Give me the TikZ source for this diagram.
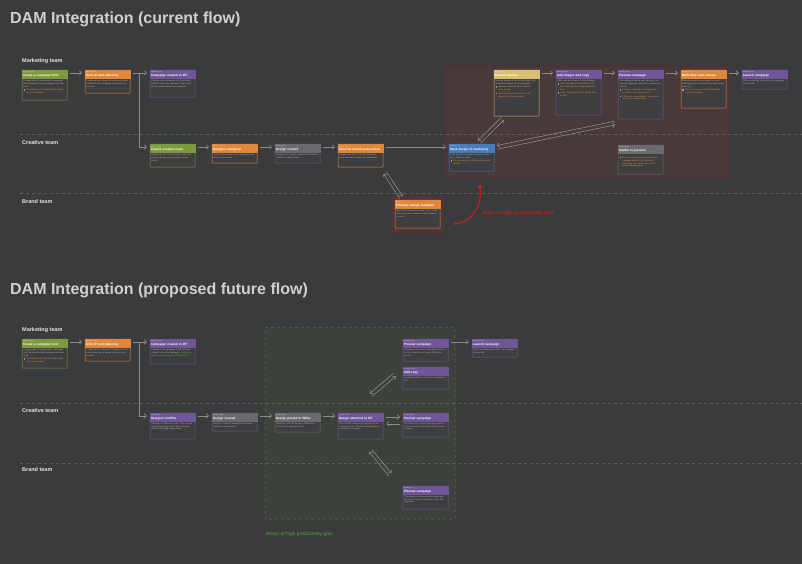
\documentclass[tikz,border=0pt]{standalone}
\usepackage{fontspec}
\setmainfont{Liberation Sans}
\usetikzlibrary{arrows.meta}

\definecolor{bgdark}{RGB}{58,59,61}
\definecolor{cardfill}{RGB}{62,62,65}
\definecolor{titlegray}{RGB}{208,208,208}
\definecolor{lanewhite}{RGB}{228,228,228}
\definecolor{bodygray}{RGB}{180,180,182}
\definecolor{dashgray}{RGB}{96,96,98}
\definecolor{arrowgray}{RGB}{140,140,142}
\definecolor{cgreen}{RGB}{125,155,60}
\definecolor{corange}{RGB}{226,134,58}
\definecolor{cpurple}{RGB}{112,86,152}
\definecolor{cgray}{RGB}{105,107,110}
\definecolor{cyellow}{RGB}{218,192,110}
\definecolor{cblue}{RGB}{70,125,190}
\definecolor{notecol}{RGB}{215,150,70}
\definecolor{lossfill}{RGB}{72,57,58}
\definecolor{lossline}{RGB}{112,36,36}
\definecolor{lossred}{RGB}{205,30,30}
\definecolor{gainfill}{RGB}{60,66,59}
\definecolor{gainline}{RGB}{75,140,60}
\definecolor{gaintext}{RGB}{80,170,60}

% one card: name, x, y, height, colour, team, title, body
\newcommand{\dcard}[8]{%
  \node[cardbox, draw=#5, minimum height=#4pt] (#1) at (#2,#3) {};
  \node[cardhead, draw=#5, fill=#5] (#1-head) at (#1.north west)
    {{\fontsize{1.5}{1.9}\selectfont\mdseries\color{white!75!gray}#6}\\#7};
  \node[cardtext] (#1-text) at (#1-head.south west) {#8};}
% orange note inside a card
\newcommand{\dnote}[1]{\par\vspace{0.7pt}\textcolor{notecol}{\rule{1.5pt}{1.5pt}\hspace{1.2pt}\parbox[t]{37pt}{\raggedright #1}}}

\begin{document}
\begin{tikzpicture}[x=1pt, y=-1pt,
  cardbox/.style={anchor=north west, minimum width=45pt, fill=cardfill, line width=0.5pt, rounded corners=0.6pt, inner sep=0pt},
  cardhead/.style={anchor=north west, text width=43.4pt, inner xsep=0.8pt, inner ysep=0.9pt, minimum height=8pt, align=left, text=white, line width=0.5pt, font=\fontsize{3.1}{3.4}\selectfont\bfseries},
  cardtext/.style={anchor=north west, text width=42pt, inner xsep=1.5pt, inner ysep=1.3pt, align=left, text=bodygray, font=\fontsize{2.1}{2.8}\selectfont},
  flow/.style={draw=arrowgray, line width=0.6pt, -{Straight Barb[length=2.2pt, width=4.4pt]}, shorten <=3pt, shorten >=3pt},
  lane/.style={anchor=west, inner sep=0pt, text=lanewhite, font=\fontsize{5.5}{6}\selectfont\bfseries},
  heading/.style={anchor=base west, inner sep=0pt, text=titlegray, font=\fontsize{16}{18}\selectfont\bfseries},
  divider/.style={draw=dashgray, dashed, line width=0.5pt},
  lossarea/.style={anchor=north west, draw=lossline, fill=lossfill, line width=0.6pt, rounded corners=1pt},
  gainarea/.style={anchor=north west, draw=gainline, fill=gainfill, dashed, line width=0.5pt, rounded corners=1pt}]

  % background
  \fill[bgdark] (0,0) rectangle (802,564);

  % headings and lanes
  \node[heading] (title1) at (10,24) {DAM Integration (current flow)};
  \node[heading] (title2) at (10,295) {DAM Integration (proposed future flow)};
  \foreach \y/\t in {61/Marketing team, 143/Creative team, 202/Brand team, 330/Marketing team, 411/Creative team, 470/Brand team}
    \node[lane] (lane-\y) at (22,\y) {\t};

  % areas
  \node[lossarea, minimum width=284pt, minimum height=112pt] (lossmain) at (445,66) {};
  \node[lossarea, minimum width=53pt, minimum height=36pt] (lossfb) at (391,196) {};
  \node[gainarea, minimum width=190pt, minimum height=192pt] (gainmain) at (265,327) {};
  \foreach \y in {134,193,403,463} \draw[divider] (20,\y) -- (802,\y);

  % current flow
  \dcard{brief}{22}{70}{30}{cgreen}{Marketing team}{Create a campaign brief}{A single sheet is created with a campaign brief, detailing the key messages and audience.\dnote{The brief lives in a shared folder, away from the campaign.}}
  \dcard{kick}{85}{70}{23}{corange}{Marketing team}{Kick off and planning}{Creative brief is shared for review and feedback before the campaign and assets are created.}
  \dcard{mt}{150}{70}{27}{cpurple}{Marketing team}{Campaign created in MT}{Creates a new campaign in MT and adds relevant info to the campaign. Then waits for the creative brief to be completed.}
  \dcard{involve}{150}{144}{23}{cgreen}{Creative team}{Involve creative team}{Assigns the brief to the creative team who plan the design work and asset requirements.}
  \dcard{assign}{212}{144}{19}{corange}{Creative team}{Designer assigned}{The brief is handed over to a designer who starts on the assets.}
  \dcard{created}{275}{144}{19}{cgray}{Creative team}{Design created}{Designs are created, reviewed and finalised within the creative team.}
  \dcard{brandrev}{338}{144}{23}{corange}{Creative team}{Send for brand team review}{Designs are sent to the brand team by email and wait for approval or feedback.}
  \dcard{send}{449}{144}{27}{cblue}{Creative team}{Send design to marketing}{Final approved designs are sent to marketing, usually via email.\dnote{Files are shared in different places and formats.}}
  \dcard{review}{494}{70}{46}{cyellow}{Marketing team}{Review designs}{Reviews designs in the shared folder, then downloads images for the campaign.\dnote{Manually download and re-upload every design.}\dnote{Marketing cannot comment on the design inside the campaign.}}
  \dcard{addimg}{556}{70}{45}{cpurple}{Marketing team}{Add images and copy}{Adds copy and images to the campaign.\dnote{Copy and images are added one by one, checking each design against its brief.}\dnote{Copy changes go into the design files as well.}}
  \dcard{preview}{618}{70}{49}{cpurple}{Marketing team}{Preview campaign}{After adding all the designs and copy, preview the campaign using MT's preview functionality.\dnote{If images need edits, marketing must go back to the creative team.}\dnote{If there are wrong images, the creative team has to resend them.}}
  \dcard{mktrev}{681}{70}{38}{corange}{Marketing team}{Marketing team review}{Manually check the campaign for errors, making sure it is ready with the right images and copy.\dnote{This is a slow process that adds time to every campaign.}}
  \dcard{launch}{742}{70}{19}{cpurple}{Marketing team}{Launch campaign}{When everything looks good, the campaign is launched.}
  \dcard{unable}{618}{145}{29}{cgray}{Creative team}{Unable to preview}{\dnote{The creative team cannot preview the campaign before it is shared with marketing. This causes errors and extra feedback rounds.}}
  \dcard{fb}{395}{200}{28}{corange}{Brand team}{Effective design feedback}{Brand team review the design. The creative team may have to rework it after feedback by email.}

  % current flow connectors
  \foreach \a/\b in {brief/kick, kick/mt, involve/assign, assign/created, created/brandrev, brandrev/send, review/addimg, addimg/preview, preview/mktrev, mktrev/launch}
    \draw[flow] ([yshift=-3pt]\a.north east) -- ([yshift=-3pt]\b.north west);
  \draw[flow, shorten <=0pt] ([shift={(9,3)}]kick.north east) |- ([yshift=-3pt]involve.north west);
  \draw[flow, transform canvas={shift={(1.3,1.3)}}] ([xshift=5.5pt]send.north) -- ([xshift=11pt]review.south west);
  \draw[flow, transform canvas={shift={(-1.3,-1.3)}}] ([xshift=11pt]review.south west) -- ([xshift=5.5pt]send.north);
  \draw[flow, transform canvas={shift={(0.4,1.8)}}] ([yshift=-4pt]send.north east) -- ([yshift=-3pt]preview.south west);
  \draw[flow, transform canvas={shift={(-0.4,-1.8)}}] ([yshift=-3pt]preview.south west) -- ([yshift=-4pt]send.north east);
  \draw[flow, transform canvas={shift={(1.5,-1.0)}}] ([yshift=-3pt]brandrev.south east) -- ([xshift=8pt]fb.north west);
  \draw[flow, transform canvas={shift={(-1.5,1.0)}}] ([xshift=8pt]fb.north west) -- ([yshift=-3pt]brandrev.south east);

  % loss marker
  \node[circle, fill=lossred, inner sep=0pt, minimum size=4pt] (lossdot) at (480,187) {};
  \coordinate (losstip) at (453,224);
  \draw[lossred, line width=1.2pt, -{Latex[length=3.5pt, width=3.5pt]}] (lossdot) .. controls (482,206) and (472,222) .. (losstip);
  \node[anchor=west, inner sep=0pt, text=lossred, font=\fontsize{4.9}{5.5}\selectfont\bfseries] (losslabel) at (482,213) {Areas of high productivity loss};

  % future flow
  \dcard{brief2}{22}{339}{29}{cgreen}{Marketing team}{Create a campaign brief}{A single sheet is created with a campaign brief, detailing the key messages and audience.\dnote{The brief lives in a shared folder, away from the campaign.}}
  \dcard{kick2}{85}{339}{22}{corange}{Marketing team}{Kick off and planning}{Creative brief is shared for review and feedback before the campaign and assets are created.}
  \dcard{mt2}{150}{339}{25}{cpurple}{Marketing team}{Campaign created in MT}{Creates a new campaign in MT and adds relevant info to the campaign. \textcolor{gaintext}{Assigns the brief to the creative team directly in MT.}}
  \dcard{notify}{150}{413}{26}{cpurple}{Creative team}{Designer notifies}{Designer is notified by email. They see the brief straight away in MT, with campaign details and image requirements.}
  \dcard{created2}{212}{413}{18}{cgray}{Creative team}{Design created}{Design is created, reviewed and finalised within the creative team.}
  \dcard{wrike}{275}{413}{19}{cgray}{Creative team}{Design posted in Wrike}{Designer posts the design in Wrike and it syncs to the campaign in MT.}
  \dcard{attach}{338}{413}{26}{cpurple}{Creative team}{Design attached to MT}{Out of Wrike, designs are attached to the campaign in MT. Brand and marketing can comment in one place.}
  \dcard{prevB}{403}{413}{24}{cpurple}{Creative team}{Preview campaign}{All parties can preview campaigns with the correct assets in real time in MT and make changes.}
  \dcard{prevA}{403}{339}{22}{cpurple}{Marketing team}{Preview campaign}{All parties can preview campaigns with the correct assets in real time in MT before launch.}
  \dcard{launch2}{472}{339}{18}{cpurple}{Marketing team}{Launch campaign}{When everything looks good, the campaign is launched.}
  \dcard{addcopy}{403}{367}{22}{cpurple}{Marketing team}{Add copy}{Marketing adds the copy to the campaign in MT.}
  \dcard{prevC}{403}{486}{23}{cpurple}{Brand team}{Preview campaign}{The brand team previews campaigns with the correct assets in real time in MT and approves.}

  % future flow connectors
  \foreach \a/\b in {brief2/kick2, kick2/mt2, notify/created2, created2/wrike, wrike/attach, prevA/launch2}
    \draw[flow] ([yshift=-3pt]\a.north east) -- ([yshift=-3pt]\b.north west);
  \draw[flow, shorten <=0pt] ([shift={(9,3)}]kick2.north east) |- ([yshift=-3pt]notify.north west);
  \draw[flow] ([yshift=-4pt]attach.north east) -- ([yshift=-4pt]prevB.north west);
  \draw[flow] ([yshift=-11pt]prevB.north west) -- ([yshift=-11pt]attach.north east);
  \draw[flow, transform canvas={shift={(1.2,1.4)}}] ([shift={(8,-16)}]attach.north) -- ([shift={(-6,6)}]addcopy.north west);
  \draw[flow, transform canvas={shift={(-1.2,-1.4)}}] ([shift={(-6,6)}]addcopy.north west) -- ([shift={(8,-16)}]attach.north);
  \draw[flow, transform canvas={shift={(1.4,-1.2)}}] ([shift={(8,9)}]attach.south) -- ([shift={(-11,-9)}]prevC.north west);
  \draw[flow, transform canvas={shift={(-1.4,1.2)}}] ([shift={(-11,-9)}]prevC.north west) -- ([shift={(8,9)}]attach.south);
  \node[anchor=west, inner sep=0pt, text=gaintext, font=\fontsize{5}{6}\selectfont] (gainlabel) at (266,534) {Areas of high productivity gain};
\end{tikzpicture}
\end{document}
